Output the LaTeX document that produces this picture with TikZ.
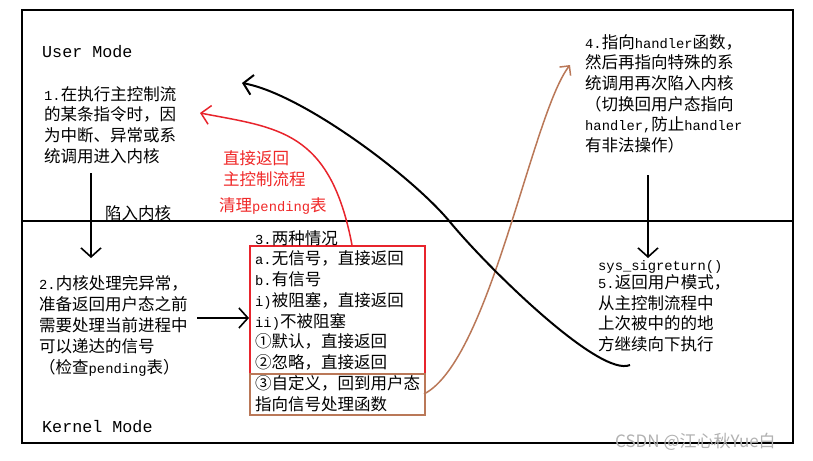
\documentclass[tikz,border=0pt]{standalone}
\usepackage{fontspec}
\setmainfont{Liberation Mono}[Scale=0.836]
\newfontfamily\cjk{Noto Sans CJK SC}
\usetikzlibrary{arrows.meta}
\newcommand\zh[1]{{\cjk #1}}
\definecolor{boxred}{RGB}{232,36,44}
\definecolor{boxbrown}{RGB}{186,120,88}
\definecolor{txtred}{RGB}{240,40,40}
\tikzset{
  body/.style={inner sep=0pt, align=left, anchor=north west, font=\fontsize{16.5}{20.6}\selectfont},
  oneline/.style={inner sep=0pt, anchor=base west, font=\fontsize{16.5}{20.6}\selectfont},
  modelabel/.style={inner sep=0pt, anchor=base west, font=\fontsize{20}{24}\selectfont},
  arr/.style={line width=1.6pt, -{Straight Barb[length=9pt,width=20pt]}},
  frameline/.style={line width=2pt},
  redcurve/.style={boxred, line width=1.5pt, -{Straight Barb[length=9pt,width=19pt]}},
  browncurve/.style={boxbrown, line width=1.5pt, -{Straight Barb[length=7pt,width=14pt]}},
  blackcurve/.style={line width=2pt, -{Straight Barb[length=9pt,width=20pt]}},
}
\begin{document}
\begin{tikzpicture}[x=1pt,y=-1pt]
\useasboundingbox (0,0) rectangle (813,460);
\fill[white] (0,0) rectangle (813,460);

% frame and divider
\draw[frameline] (22,10) rectangle (793,443);
\coordinate (divL) at (22,221);
\coordinate (divR) at (793,221);
\draw[frameline] (divL) -- (divR);

% mode labels
\node[modelabel] (user) at (42,57) {User Mode};
\node[modelabel] (kernel) at (42,432) {Kernel Mode};

% step 1
\node[body] (t1) at (44,84) {\rule{0pt}{16pt}1.\zh{在执行主控制流}\\\zh{的某条指令时，因}\\\zh{为中断、异常或系}\\\zh{统调用进入内核}};

% trap label and arrow
\node[oneline] (trap) at (105,219) {\zh{陷入内核}};
\coordinate (a1s) at (91,173);
\coordinate (a1e) at (91,258);
\draw[arr] (a1s) -- (a1e);

% step 2
\node[body, font=\fontsize{16.5}{21}\selectfont] (t2) at (39,273) {\rule{0pt}{16pt}2.\zh{内核处理完异常，}\\\zh{准备返回用户态之前}\\\zh{需要处理当前进程中}\\\zh{可以递达的信号}\\\zh{（检查}pending\zh{表）}};

% boxes
\node[draw=boxred, line width=1.6pt, anchor=north west, inner sep=0pt, minimum width=175pt, minimum height=128pt] (rbox) at (249,245) {};
\node[draw=boxbrown, line width=1.6pt, anchor=north west, inner sep=0pt, minimum width=175pt, minimum height=41pt] (bbox) at (249,373) {};

% step 3 text
\node[body, font=\fontsize{16.5}{20.75}\selectfont] (t3) at (255,228) {\rule{0pt}{16pt}3.\zh{两种情况}\\a.\zh{无信号，直接返回}\\b.\zh{有信号}\\i)\zh{被阻塞，直接返回}\\ii)\zh{不被阻塞}\\\zh{①默认，直接返回}\\\zh{②忽略，直接返回}\\\zh{③自定义，回到用户态}\\\zh{指向信号处理函数}};

% arrow step 2 -> box
\coordinate (a2s) at (197,318);
\coordinate (a2e) at (rbox.west |- a2s);
\draw[arr] (a2s) -- (a2e);

% red labels
\node[oneline, text=txtred] (r1) at (223,164) {\zh{直接返回}};
\node[oneline, text=txtred] (r2) at (223,185) {\zh{主控制流程}};
\node[oneline, text=txtred] (r3) at (219,211) {\zh{清理}pending\zh{表}};

% red curve
\coordinate (redS) at (352,245);
\coordinate (redE) at (200,113);
\draw[redcurve] (redS) .. controls (330,130) and (278,128) .. (redE);

% step 4
\node[body] (t4) at (585,32) {\rule{0pt}{16pt}4.\zh{指向}handler\zh{函数，}\\\zh{然后再指向特殊的系}\\\zh{统调用再次陷入内核}\\\zh{（切换回用户态指向}\\handler,\zh{防止}handler\\\zh{有非法操作）}};

% brown curve
\coordinate (brS) at (424,394);
\coordinate (brE) at (570,65);
\draw[browncurve] (brS) .. controls (490,360) and (532,114) .. (brE);

% right arrow
\coordinate (a3s) at (648,175);
\coordinate (a3e) at (648,258);
\draw[arr] (a3s) -- (a3e);

% step 5
\node[oneline] (sys) at (598,270) {sys\_sigreturn()};
\node[body, font=\fontsize{16.5}{20.8}\selectfont] (t5) at (598,272) {\rule{0pt}{16pt}5.\zh{返回用户模式，}\\\zh{从主控制流程中}\\\zh{上次被中的的地}\\\zh{方继续向下执行}};

% black curve
\coordinate (bkS) at (630,365);
\coordinate (bkM) at (450,222);
\coordinate (bkE) at (242,83);
\draw[blackcurve] (bkS) .. controls (600,378) and (488,268) .. (bkM) .. controls (412,176) and (302,94) .. (bkE);

% watermark
\node[inner sep=0pt, anchor=base west, text=gray!60, font=\cjk\fontsize{17}{20}\selectfont] (wm) at (615,447) {CSDN @江心秋Yue白};
\end{tikzpicture}
\end{document}
